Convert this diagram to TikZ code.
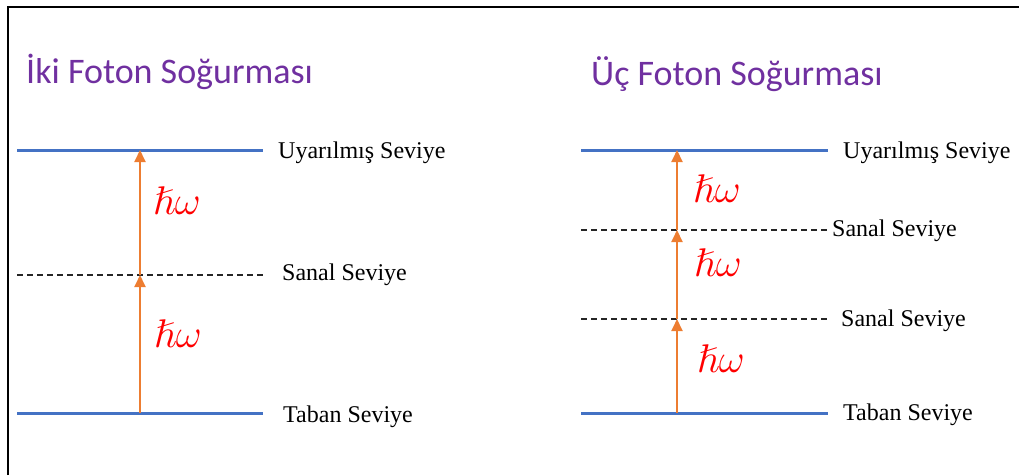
\RequirePackage{fix-cm}
\documentclass[tikz,border=0pt]{standalone}
\usepackage{amsmath}
\usepackage{amssymb}
\usepackage[no-math]{fontspec}
\setmainfont{Liberation Serif}
\newfontfamily\titleFont{Carlito}
\usetikzlibrary{arrows.meta}
\definecolor{levelBlue}{HTML}{4472C4}
\definecolor{photonOrange}{HTML}{ED7D31}
\definecolor{titlePurple}{HTML}{7030A0}
\newcommand{\photonEnergy}[0]{$\hslash\omega$}

\begin{document}
\begin{tikzpicture}[x=1pt, y=-1pt]
  \tikzset{
    realLevel/.style={levelBlue, line width=3pt},
    virtualLevel/.style={black!85, line width=1.2pt, dash pattern=on 6pt off 4pt},
    levelLabel/.style={anchor=base west, inner sep=0pt, font=\fontsize{24}{24}\selectfont},
    photon/.style={photonOrange, line width=2pt, -{Triangle[length=12pt,width=11pt]}},
    energyLabel/.style={anchor=base west, inner sep=0pt, red, font=\fontsize{40}{40}\selectfont},
    titleLabel/.style={anchor=base west, inner sep=0pt, titlePurple, font=\titleFont\fontsize{36}{36}\selectfont}
  }
  \useasboundingbox (0,0) rectangle (1019,475);
  \draw[line width=2pt] (8,475) -- (8,7) -- (1019,7);

  % iki foton
  \node[titleLabel] (ikiTitle) at (26,83) {İki Foton Soğurması};
  \coordinate (ikiUstW) at (17,150);   \coordinate (ikiUstE) at (263,150);
  \coordinate (ikiSanalW) at (17,275); \coordinate (ikiSanalE) at (263,275);
  \coordinate (ikiTabanW) at (17,413); \coordinate (ikiTabanE) at (263,413);
  \draw[realLevel] (ikiUstW) -- (ikiUstE);
  \draw[virtualLevel] (ikiSanalW) -- (ikiSanalE);
  \draw[realLevel] (ikiTabanW) -- (ikiTabanE);
  \node[levelLabel] (ikiUstText) at (278,158) {Uyarılmış Seviye};
  \node[levelLabel] (ikiSanalText) at (282,280) {Sanal Seviye};
  \node[levelLabel] (ikiTabanText) at (283,422) {Taban Seviye};
  \coordinate (ikiUstA) at (140,150);
  \coordinate (ikiSanalA) at (140,275);
  \coordinate (ikiTabanA) at (140,413);
  \draw[photon] (ikiTabanA) -- (ikiSanalA);
  \draw[photon] (ikiSanalA) -- (ikiUstA);
  \node[energyLabel] (ikiFotonB) at (154,347) {\photonEnergy};
  \node[energyLabel] (ikiFotonA) at (153,214) {\photonEnergy};

  % uc foton
  \node[titleLabel] (ucTitle) at (591,85) {Üç Foton Soğurması};
  \coordinate (ucUstW) at (581,150);    \coordinate (ucUstE) at (828,150);
  \coordinate (ucSanalAW) at (581,230); \coordinate (ucSanalAE) at (828,230);
  \coordinate (ucSanalBW) at (581,319); \coordinate (ucSanalBE) at (828,319);
  \coordinate (ucTabanW) at (581,413);  \coordinate (ucTabanE) at (828,413);
  \draw[realLevel] (ucUstW) -- (ucUstE);
  \draw[virtualLevel] (ucSanalAW) -- (ucSanalAE);
  \draw[virtualLevel] (ucSanalBW) -- (ucSanalBE);
  \draw[realLevel] (ucTabanW) -- (ucTabanE);
  \node[levelLabel] (ucUstText) at (843,158) {Uyarılmış Seviye};
  \node[levelLabel] (ucSanalAText) at (832,236) {Sanal Seviye};
  \node[levelLabel] (ucSanalBText) at (841,326) {Sanal Seviye};
  \node[levelLabel] (ucTabanText) at (843,420) {Taban Seviye};
  \coordinate (ucUstA) at (677,150);
  \coordinate (ucSanalAA) at (677,230);
  \coordinate (ucSanalBA) at (677,319);
  \coordinate (ucTabanA) at (677,413);
  \draw[photon] (ucTabanA) -- (ucSanalBA);
  \draw[photon] (ucSanalBA) -- (ucSanalAA);
  \draw[photon] (ucSanalAA) -- (ucUstA);
  \node[energyLabel] (ucFotonC) at (697,372) {\photonEnergy};
  \node[energyLabel] (ucFotonB) at (694,276) {\photonEnergy};
  \node[energyLabel] (ucFotonA) at (693,202) {\photonEnergy};
\end{tikzpicture}
\end{document}
